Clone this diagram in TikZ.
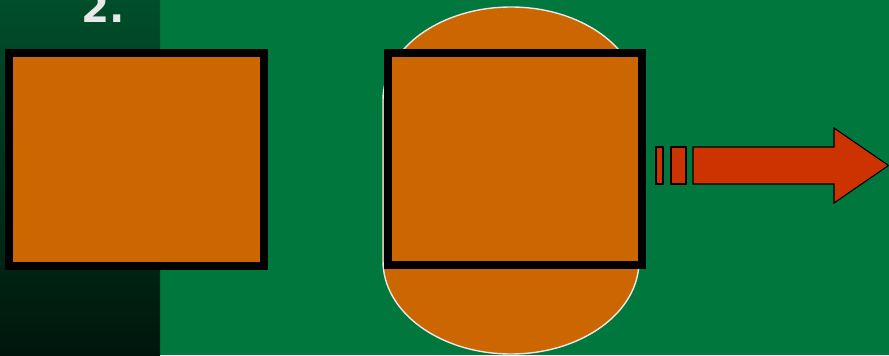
\documentclass[tikz,border=0pt]{standalone}
\usepackage{fontspec}
\setsansfont{DejaVu Sans}
\usetikzlibrary{calc, positioning}
\definecolor{fieldGreen}{RGB}{0, 119, 60}
\definecolor{stripTop}{RGB}{0, 78, 42}
\definecolor{stripBot}{RGB}{0, 22, 12}
\definecolor{boxOrange}{RGB}{204, 102, 0}
\definecolor{arrowRed}{RGB}{204, 51, 0}
\definecolor{numWhite}{RGB}{232, 232, 232}

\begin{document}
\begin{tikzpicture}[
  x=0.02cm, y=-0.02cm,
  box/.style={draw=black, line width=0.16cm, fill=boxOrange, inner sep=0pt},
  arrowpart/.style={draw=black, line width=0.6pt, fill=arrowRed}
]
  % Background
  \fill[fieldGreen] (0, 0) rectangle (889, 355);
  \shade[top color=stripTop, bottom color=stripBot] (0, 0) rectangle (160, 355);
  \useasboundingbox (0, 0) rectangle (889, 355);
  % Number
  \node[font=\sffamily\bfseries\fontsize{23}{23}\selectfont, text=numWhite, anchor=base] (num) at (103, 22) {2.};
  % Left box
  \node[box, minimum width=5.1cm, minimum height=4.26cm] (leftbox) at (136.5, 159.5) {};
  % Rounded backing shape
  \fill[boxOrange, draw=numWhite, line width=0.8pt]
    (383, 100) arc[start angle=180, end angle=0, x radius=128, y radius=-93]
    -- (639, 261) arc[start angle=0, end angle=-180, x radius=128, y radius=-93] -- cycle;
  % Middle box
  \node[box, minimum width=5.1cm, minimum height=4.24cm] (midbox) at (515, 159) {};
  % Striped arrow
  \draw[arrowpart] (656, 147) rectangle (663, 184);
  \draw[arrowpart] (671, 147) rectangle (686, 184);
  \draw[arrowpart] (693, 147) -- (834, 147) -- (834, 128) -- (888.5, 165.5)
    -- (834, 203) -- (834, 184) -- (693, 184) -- cycle;
\end{tikzpicture}
\end{document}
